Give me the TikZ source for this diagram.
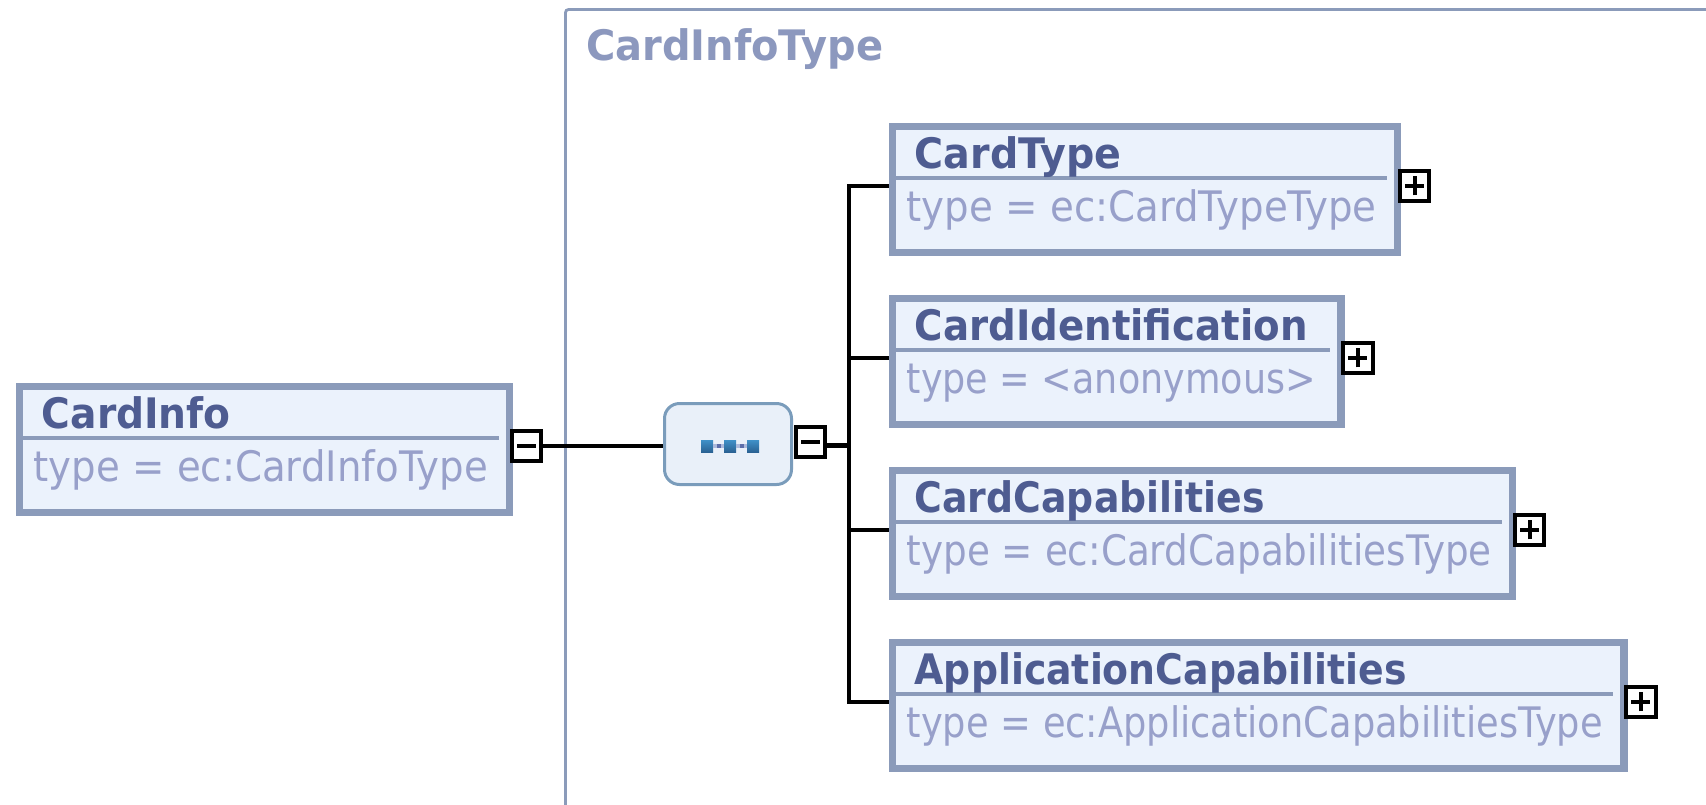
\documentclass[tikz,border=0pt]{standalone}
\usepackage{fontspec}
\setmainfont{DejaVu Sans}
\usepackage{graphicx}

\definecolor{elemborder}{RGB}{139,155,186}
\definecolor{elemfill}{RGB}{235,242,252}
\definecolor{titleblue}{RGB}{78,92,145}
\definecolor{typegray}{RGB}{152,160,202}
\definecolor{labelgray}{RGB}{140,152,190}
\definecolor{seqborder}{RGB}{122,156,187}
\definecolor{seqfill}{RGB}{233,240,249}
\definecolor{sqtop}{RGB}{64,145,200}
\definecolor{sqbot}{RGB}{42,98,148}
\definecolor{sqdotlight}{RGB}{172,186,220}
\definecolor{sqdotdark}{RGB}{92,110,170}

\def\bw{7.3}   % element border width
\def\bh{133.7} % element outer height
\def\tw{4}     % toggle border width

\tikzset{
  elem/.style={rectangle, draw=elemborder, fill=elemfill, line width=\bw pt, inner sep=0pt},
  sepline/.style={draw=elemborder, line width=3.5pt},
  titletext/.style={inner sep=0pt, text=titleblue, font=\fontsize{42}{50}\selectfont\bfseries},
  typetext/.style={inner sep=0pt, text=typegray, font=\fontsize{42}{50}\selectfont},
  labeltext/.style={inner sep=0pt, text=labelgray, font=\fontsize{42}{50}\selectfont\bfseries},
  toggle/.style={rectangle, draw=black, fill=white, line width=\tw pt, minimum size=29.5pt, inner sep=0pt},
  signline/.style={draw=black, line width=4pt},
  conn/.style={draw=black, line width=4.3pt, line join=miter},
  container/.style={draw=elemborder, line width=2.8pt, rounded corners=3pt},
  seqbox/.style={rectangle, rounded corners=15pt, draw=seqborder, fill=seqfill, line width=3pt, inner sep=0pt},
  seqsq/.style={rectangle, inner sep=0pt, minimum size=12pt, top color=sqtop, bottom color=sqbot},
  seqlink/.style={draw=sqdotlight, line width=3.4pt},
  seqdot/.style={draw=sqdotdark, line width=3.4pt, dash pattern=on 0pt off 3.6pt on 4pt off 20pt},
}

% expand / collapse signs drawn inside a toggle node
\newcommand\minussign[1]{%
  \draw[signline] ([xshift=-9.3pt]#1.center) -- ([xshift=9.3pt]#1.center);}
\newcommand\plussign[1]{%
  \draw[signline] ([xshift=-9.5pt]#1.center) -- ([xshift=9.5pt]#1.center);
  \draw[signline] ([yshift=-9.5pt]#1.center) -- ([yshift=9.5pt]#1.center);}

% element box: #1 name, #2 left, #3 top, #4 right, #5 title, #6 title width,
% #7 type line, #8 type line width, #9 sign of the toggle
\newcommand\xsdelem[9]{%
  \pgfmathsetmacro\ew{#4-#2-\bw}%
  \pgfmathsetmacro\eh{\bh-\bw}%
  \node[elem, minimum width=\ew pt, minimum height=\eh pt, anchor=north west]
    (#1) at (#2+\bw/2, #3+\bw/2) {};
  \draw[sepline] (#2+\bw, #3+59) -- (#4-11, #3+59);
  \node[titletext, anchor=base west] (#1-title) at (#2+29.5, #3+49.3)
    {\resizebox{#6pt}{\height}{#5}};
  \node[typetext, anchor=base west] (#1-type) at (#2+21.5, #3+102.7)
    {\resizebox{#8pt}{\height}{#7}};
  \node[toggle] (#1-tog) at (#4+16.8, #3+66.8) {};
  #9{#1-tog}%
}

\begin{document}
\begin{tikzpicture}[x=1pt, y=-1pt]
\useasboundingbox[fill=white] (0,0) rectangle (1706,804);

% complex type frame
\draw[container] (565.5,815) -- (565.5,9.5) -- (1715,9.5);
\node[labeltext, anchor=base west] (cit-label) at (586,60)
  {\resizebox{297pt}{\height}{CardInfoType}};

% parent element
\xsdelem{ci}{12.1}{379}{509.6}{CardInfo}{189}{type = ec:CardInfoType}{454}{\minussign}

% sequence compositor
\node[seqbox, minimum width=127pt, minimum height=81pt] (seq) at (728,444) {};
\node[seqsq] (sq1) at (707,446) {};
\node[seqsq] (sq2) at (730,446) {};
\node[seqsq] (sq3) at (753,446) {};
\draw[seqlink] (sq1.east) -- (sq2.west);
\draw[seqlink] (sq2.east) -- (sq3.west);
\draw[seqdot] (sq1.east) -- (sq2.west);
\draw[seqdot] (sq2.east) -- (sq3.west);
\node[toggle] (seq-tog) at (810.5,441.8) {};
\minussign{seq-tog}

% child elements
\xsdelem{ct}{885}{119}{1397.7}{CardType}{207}{type = ec:CardTypeType}{470}{\plussign}
\xsdelem{cid}{885}{291}{1341}{CardIdentification}{393}{type = <anonymous>}{409}{\plussign}
\xsdelem{cc}{885}{463}{1512.7}{CardCapabilities}{350}{type = ec:CardCapabilitiesType}{585}{\plussign}
\xsdelem{ac}{885}{635}{1624}{ApplicationCapabilities}{492}{type = ec:ApplicationCapabilitiesType}{696}{\plussign}

% connectors
\coordinate (bus) at (849.3,445.5);
\draw[conn] (ci-tog.east) -- (ci-tog.east -| seq.west);
\draw[conn] (seq-tog.east |- bus) -- (bus);
\draw[conn] (ct-tog -| ct.west) -- (bus |- ct-tog) -- (bus |- ac-tog) -- (ac-tog -| ac.west);
\draw[conn] (bus |- cid-tog) -- (cid-tog -| cid.west);
\draw[conn] (bus |- cc-tog) -- (cc-tog -| cc.west);
\end{tikzpicture}
\end{document}
